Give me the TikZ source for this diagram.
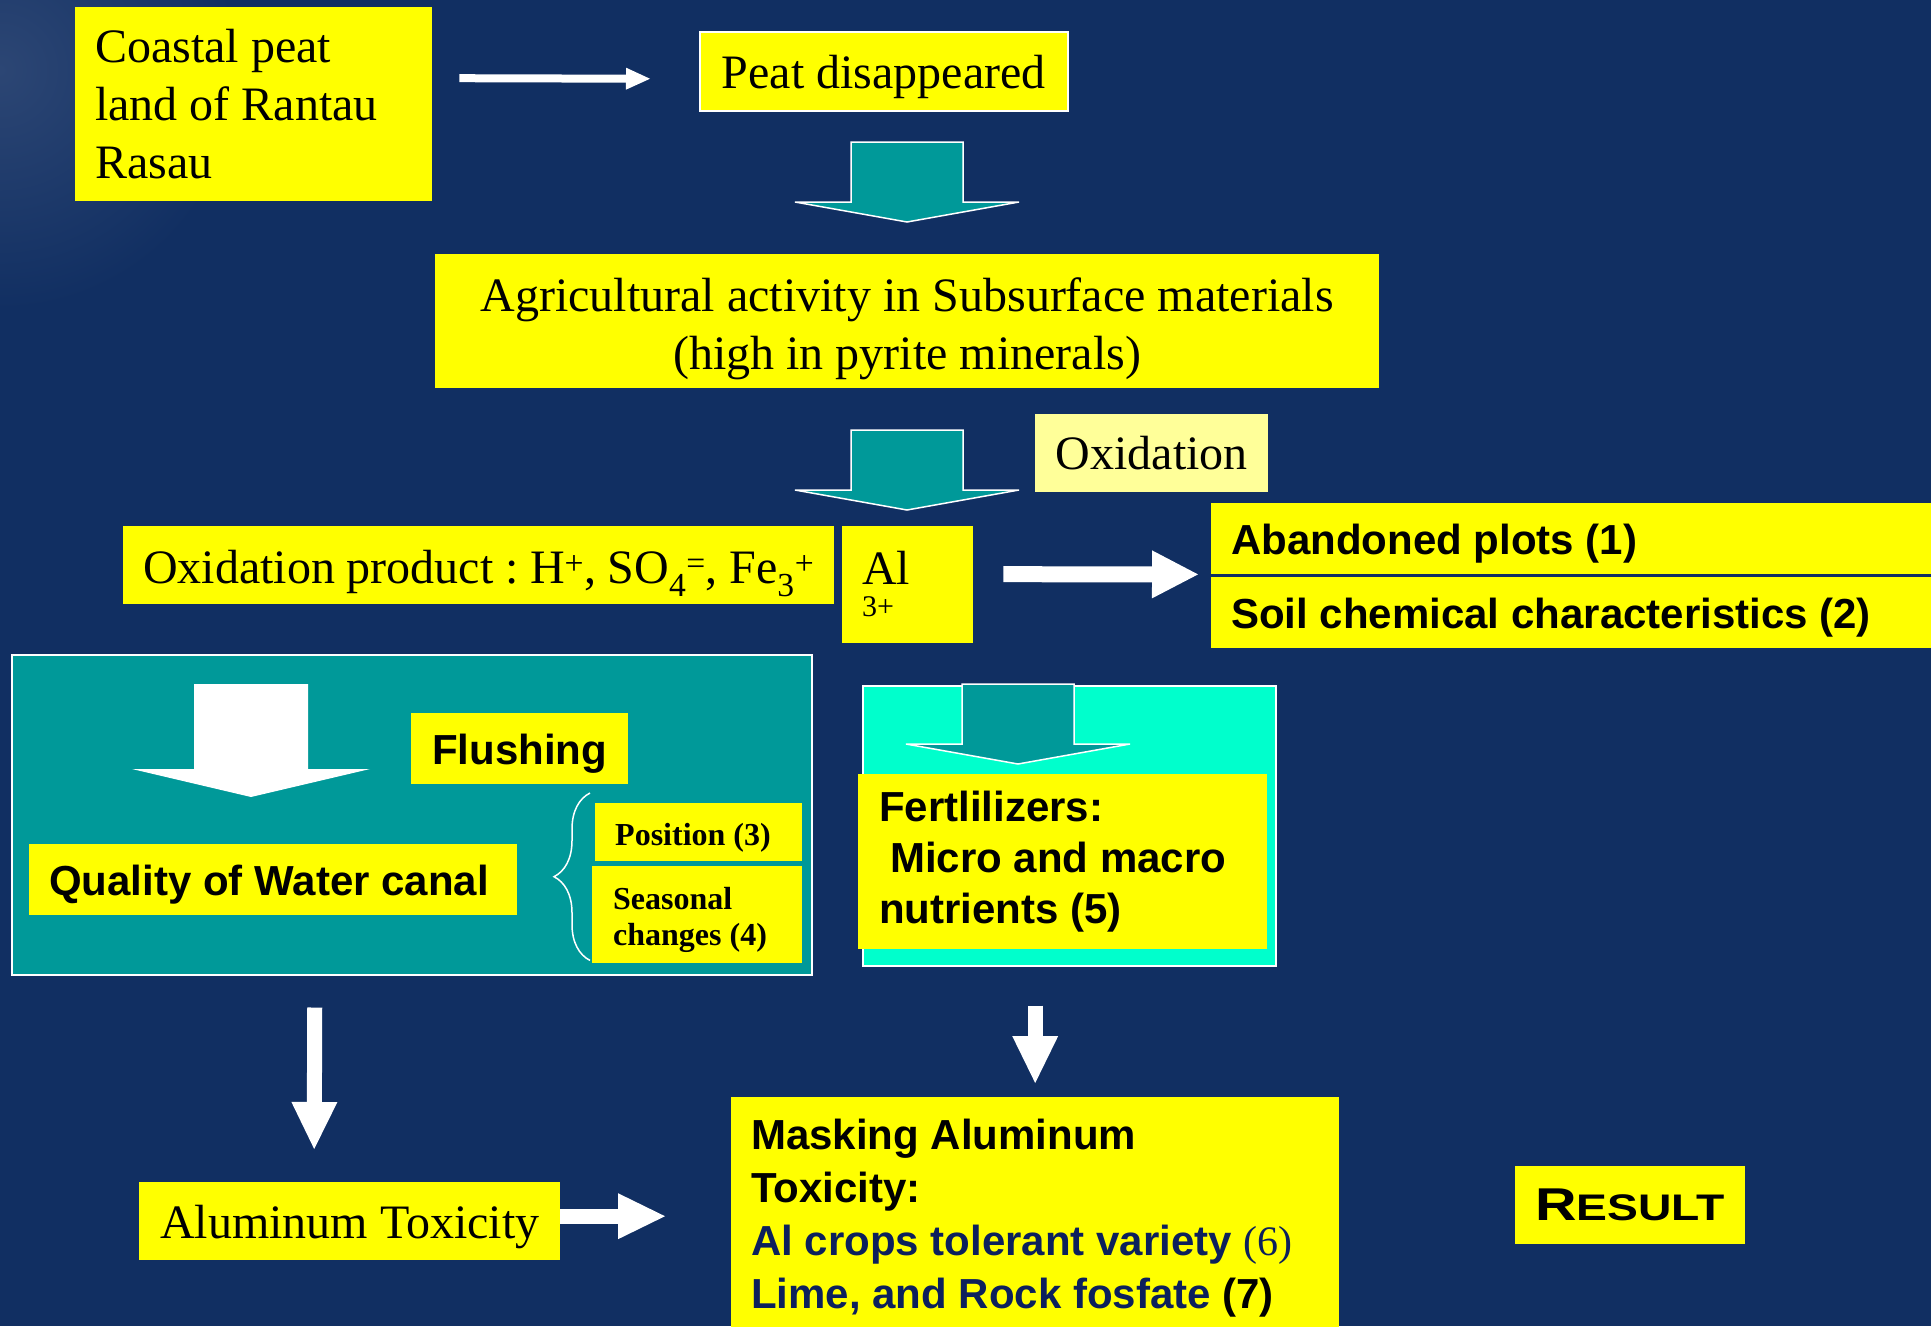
\documentclass[tikz,border=0pt]{standalone}
\usepackage{fontspec}
\usepackage{graphicx}
\usepackage{tikz}
\usetikzlibrary{arrows.meta,
                calc,
                positioning,
                decorations.pathreplacing}
\newfontfamily\timesfont{Liberation Serif}
\newfontfamily\arialfont{Liberation Sans}
\definecolor{bgnavy}{RGB}{17,47,98}
\definecolor{hazenavy}{RGB}{44,70,116}
\definecolor{boxyellow}{RGB}{255,255,0}
\definecolor{paleyellow}{RGB}{255,255,153}
\definecolor{canalteal}{RGB}{0,153,153}
\definecolor{fertcyan}{RGB}{0,255,204}
\definecolor{inknavy}{RGB}{12,32,92}
\newcommand{\serifbig}{\timesfont\fontsize{48}{58}\selectfont}
\newcommand{\sansbig}{\arialfont\bfseries\fontsize{42}{51}\selectfont}
\newcommand{\serifsmall}{\timesfont\bfseries\fontsize{32}{36}\selectfont}
\tikzset{
  ybox/.style={fill=boxyellow, anchor=north west, inner ysep=0pt, inner xsep=20pt, align=flush left},
  serifline/.style={font=\serifbig, text height=38pt, text depth=4pt},
  sansline/.style={font=\sansbig, text height=34pt, text depth=2pt},
  panel/.style={draw=white, line width=1.5pt, anchor=north west, inner sep=0pt},
  tealarrow/.style={fill=canalteal, draw=white, line width=1.5pt, line join=miter},
  fatarrow/.style={draw=white, line width=16pt, -{Triangle[length=46pt,width=48pt,line width=0pt]}},
  thinarrow/.style={draw=white, line width=8pt, -{Triangle[length=24pt,width=22pt,line width=0pt]}},
  droparrow/.style={draw=white, line width=15pt, -{Triangle[length=47pt,width=46pt,line width=0pt]}},
  bracket/.style={draw=white, line width=1.5pt, decorate, decoration={brace, amplitude=36pt}}
}
\frenchspacing
\begin{document}
\begin{tikzpicture}[x=1pt, y=-1pt]
  \useasboundingbox (0,0) rectangle (1931,1326);
  \fill[bgnavy] (0,0) rectangle (1931,1326);
  \shade[inner color=hazenavy, outer color=bgnavy] (0,70) circle (240);

  % panels
  \node[panel, fill=canalteal, minimum width=800pt, minimum height=320pt] (tealbox) at (11,654) {};
  \node[panel, fill=fertcyan, minimum width=413pt, minimum height=280pt] (cyanbox) at (862,685) {};

  % block arrows
  \foreach \cx/\ty in {907/142, 907/430, 1018/684}{%
    \draw[tealarrow] (\cx-56,\ty) -- (\cx+56,\ty) -- (\cx+56,\ty+60) -- (\cx+112,\ty+60)
      -- (\cx,\ty+80) -- (\cx-112,\ty+60) -- (\cx-56,\ty+60) -- cycle;
  }
  \fill[white] (194,684) -- (308,684) -- (308,769) -- (370,769) -- (251,797) -- (132,769) -- (194,769) -- cycle;

  % boxes
  \node[ybox, font=\serifbig, minimum width=357pt, minimum height=194pt, text width=317pt] (coastal) at (75,7)
    {Coastal peat\\land of Rantau\\Rasau};
  \node[ybox, serifline, draw=white, line width=1.5pt, minimum width=368pt, minimum height=79pt] (peat) at (699,31)
    {Peat disappeared};
  \node[ybox, font=\serifbig, align=flush center, text height=49pt, text depth=68pt, minimum width=944pt, minimum height=134pt, text width=904pt] (agri) at (435,254)
    {Agricultural activity in Subsurface materials\\(high in pyrite minerals)};
  \node[ybox, font=\serifbig, fill=paleyellow, minimum width=233pt, minimum height=78pt] (oxid) at (1035,414)
    {Oxidation};
  \node[ybox, serifline, text depth=2pt, minimum width=711pt, minimum height=78pt, text width=671pt] (oxprod) at (123,526)
    {Oxidation product : H\textsuperscript{+}, SO\textsubscript{4}\textsuperscript{=}, Fe\textsubscript{3}\textsuperscript{+}};
  \node[ybox, font=\serifbig, text height=33pt, text depth=34pt, minimum width=131pt, minimum height=117pt, text width=91pt] (al) at (842,526)
    {Al\\[-26pt]{\fontsize{30}{30}\selectfont 3+}};
  \node[ybox, sansline, minimum width=720pt, minimum height=71pt, text width=680pt] (abandoned) at (1211,503)
    {Abandoned plots (1)};
  \node[ybox, sansline, minimum width=720pt, minimum height=71pt, text width=680pt] (soil) at (1211,577)
    {Soil chemical characteristics (2)};
  \node[ybox, sansline, minimum width=217pt, minimum height=71pt] (flushing) at (411,713)
    {Flushing};
  \node[ybox, sansline, minimum width=488pt, minimum height=71pt, text width=448pt] (quality) at (29,844)
    {Quality of Water canal};
  \node[ybox, font=\serifsmall, text height=27pt, text depth=0pt, minimum width=207pt, minimum height=58pt, text width=167pt] (position) at (595,803)
    {Position (3)};
  \node[ybox, font=\serifsmall, text height=32pt, text depth=43pt, inner xsep=21pt, minimum width=210pt, minimum height=97pt, text width=168pt] (seasonal) at (592,866)
    {Seasonal\\changes (4)};
  \node[ybox, font=\sansbig, inner xsep=21pt, minimum width=409pt, minimum height=175pt, text width=367pt] (fert) at (858,774)
    {Fertlilizers:\\\hspace*{11pt}Micro and macro\\nutrients (5)};
  \node[ybox, serifline, minimum width=421pt, minimum height=78pt] (alutox) at (139,1182)
    {Aluminum Toxicity};
  \node[ybox, font=\arialfont\bfseries\fontsize{42}{53}\selectfont, inner ysep=14pt, text height=38pt, text depth=240pt, minimum width=608pt, text width=568pt] (masking) at (731,1097)
    {Masking Aluminum\\Toxicity:\\{\color{inknavy}Al crops tolerant variety {\timesfont\mdseries (6)}}\\{\color{inknavy}Lime, and Rock fosfate} (7)};
  \node[ybox, font=\arialfont\bfseries, minimum width=225pt, minimum height=78pt] (result) at (1515,1166)
    {\scalebox{1.25}[1]{\fontsize{46}{50}\selectfont R\fontsize{37}{40}\selectfont ESULT}};

  % connectors
  \draw[thinarrow] ([shift={(27,-26)}]coastal.east) -- ([shift={(-49,7.5)}]peat.west);
  \draw[fatarrow] ([shift={(30,-10.5)}]al.east) -- ([shift={(-13,0)}]abandoned.south west);
  \draw[droparrow] ([shift={(-97,32)}]tealbox.south) -- ([shift={(-35.5,-33)}]alutox.north);
  \draw[droparrow] ($(cyanbox.south -| masking.north)+(0,39)$) -- ([shift={(0,-14)}]masking.north);
  \draw[droparrow] ([shift={(0,-5)}]alutox.east) -- ($(alutox.east -| masking.west)+(-66,-5)$);
  \draw[bracket] ([shift={(-2,-3)}]seasonal.south west) -- ([shift={(-5,-10)}]position.north west);
\end{tikzpicture}
\end{document}
